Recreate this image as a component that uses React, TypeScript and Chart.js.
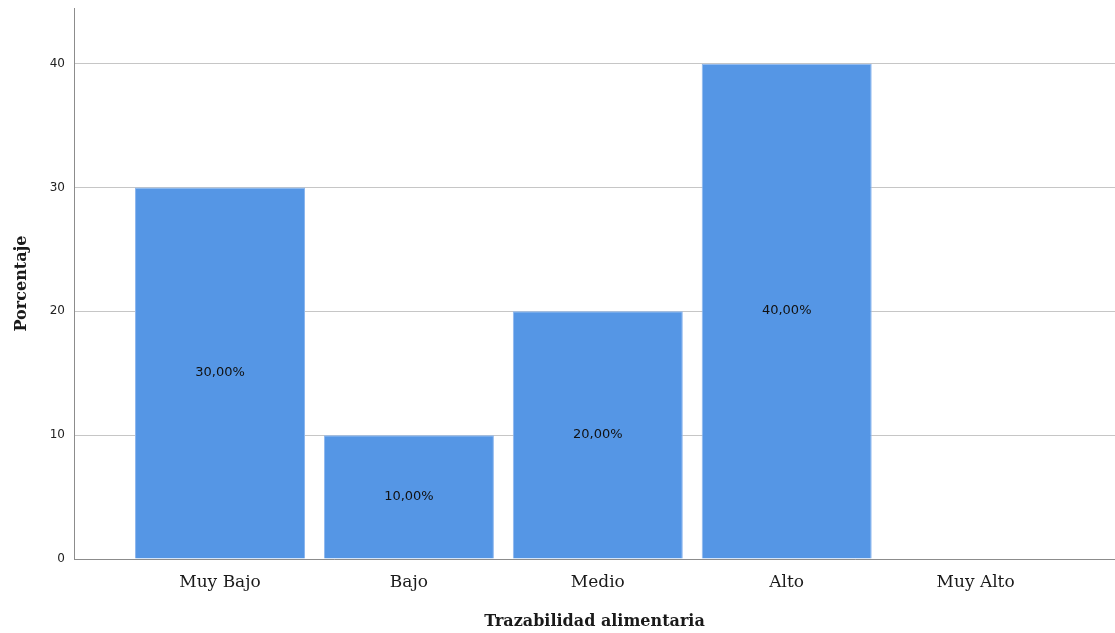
import React, { useEffect, useRef } from "react";
import { Chart, registerables } from "chart.js";

Chart.register(...registerables);

const categories: string[] = ["Muy Bajo", "Bajo", "Medio", "Alto", "Muy Alto"];
const percentages: number[] = [30, 10, 20, 40, 0];
const yTickValues: number[] = [0, 10, 20, 30, 40];
const xAxisTitle = "Trazabilidad alimentaria";
const yAxisTitle = "Porcentaje";

const barLabelPlugin = {
  id: "barLabels",
  afterDatasetsDraw(chart: any) {
    const ctx = chart.ctx;
    const meta = chart.getDatasetMeta(0);
    ctx.save();
    ctx.font = "13px 'DejaVu Sans'";
    ctx.fillStyle = "#111111";
    ctx.textAlign = "center";
    ctx.textBaseline = "middle";
    meta.data.forEach((bar: any, i: number) => {
      const v = percentages[i];
      if (!v) return;
      const yMid = (bar.y + bar.base) / 2;
      ctx.fillText(v.toFixed(2).replace(".", ",") + "%", bar.x, yMid);
    });
    ctx.restore();
  },
};

export default function App() {
  const canvasRef = useRef<HTMLCanvasElement | null>(null);

  useEffect(() => {
    if (!canvasRef.current) return;
    const chart = new Chart(canvasRef.current, {
      type: "bar",
      data: {
        datasets: [
          {
            data: percentages.map((v, i) => ({ x: i, y: v })),
            backgroundColor: "#5596e5",
            borderColor: "#8db7ee",
            borderWidth: 1,
            categoryPercentage: 1,
            barPercentage: 0.9,
          },
        ],
      },
      options: {
        animation: false,
        responsive: true,
        maintainAspectRatio: false,
        layout: { padding: { top: 0, right: 0, left: 0, bottom: 0 } },
        plugins: {
          legend: { display: false },
          tooltip: { enabled: false },
        },
        scales: {
          x: {
            type: "linear",
            offset: false,
            min: -0.773,
            max: 4.738,
            grid: { display: false, offset: false },
            border: { display: true, color: "#8c8c8c", width: 1 },
            afterBuildTicks: (scale: any) => {
              scale.ticks = categories.map((_, i) => ({ value: i }));
            },
            afterFit: (scale: any) => {
              scale.height = 74;
              scale.paddingLeft = 0;
              scale.paddingRight = 0;
            },
            ticks: {
              autoSkip: false,
              maxRotation: 0,
              padding: 5,
              color: "#1a1a1a",
              font: { family: "'DejaVu Serif'", size: 17 },
              callback: (value: any) => categories[Math.round(Number(value))] ?? "",
            },
            title: {
              display: true,
              text: xAxisTitle,
              color: "#1a1a1a",
              font: { family: "'DejaVu Serif'", size: 16, weight: "bold" },
              padding: { top: 0, bottom: 2 },
            },
          },
          y: {
            type: "linear",
            min: 0,
            max: 44.5,
            grid: { color: "#c6c6c6", drawTicks: false, lineWidth: 1 },
            border: { display: true, color: "#8c8c8c", width: 1 },
            afterBuildTicks: (scale: any) => {
              scale.ticks = yTickValues.map((v) => ({ value: v }));
            },
            afterFit: (scale: any) => {
              scale.width = 74;
              scale.paddingTop = 8;
              scale.paddingBottom = 0;
            },
            ticks: {
              padding: 9,
              color: "#222222",
              font: { family: "'DejaVu Sans'", size: 12 },
            },
            title: {
              display: true,
              text: yAxisTitle,
              color: "#1a1a1a",
              font: { family: "'DejaVu Serif'", size: 16, weight: "bold" },
              padding: { top: 12, bottom: 0 },
            },
          },
        },
      } as any,
      plugins: [barLabelPlugin],
    });
    return () => chart.destroy();
  }, []);

  return (
    <div style={{ position: "absolute", left: 0, top: 0, width: 1115, height: 633, background: "#ffffff" }}>
      <canvas ref={canvasRef} />
    </div>
  );
}
